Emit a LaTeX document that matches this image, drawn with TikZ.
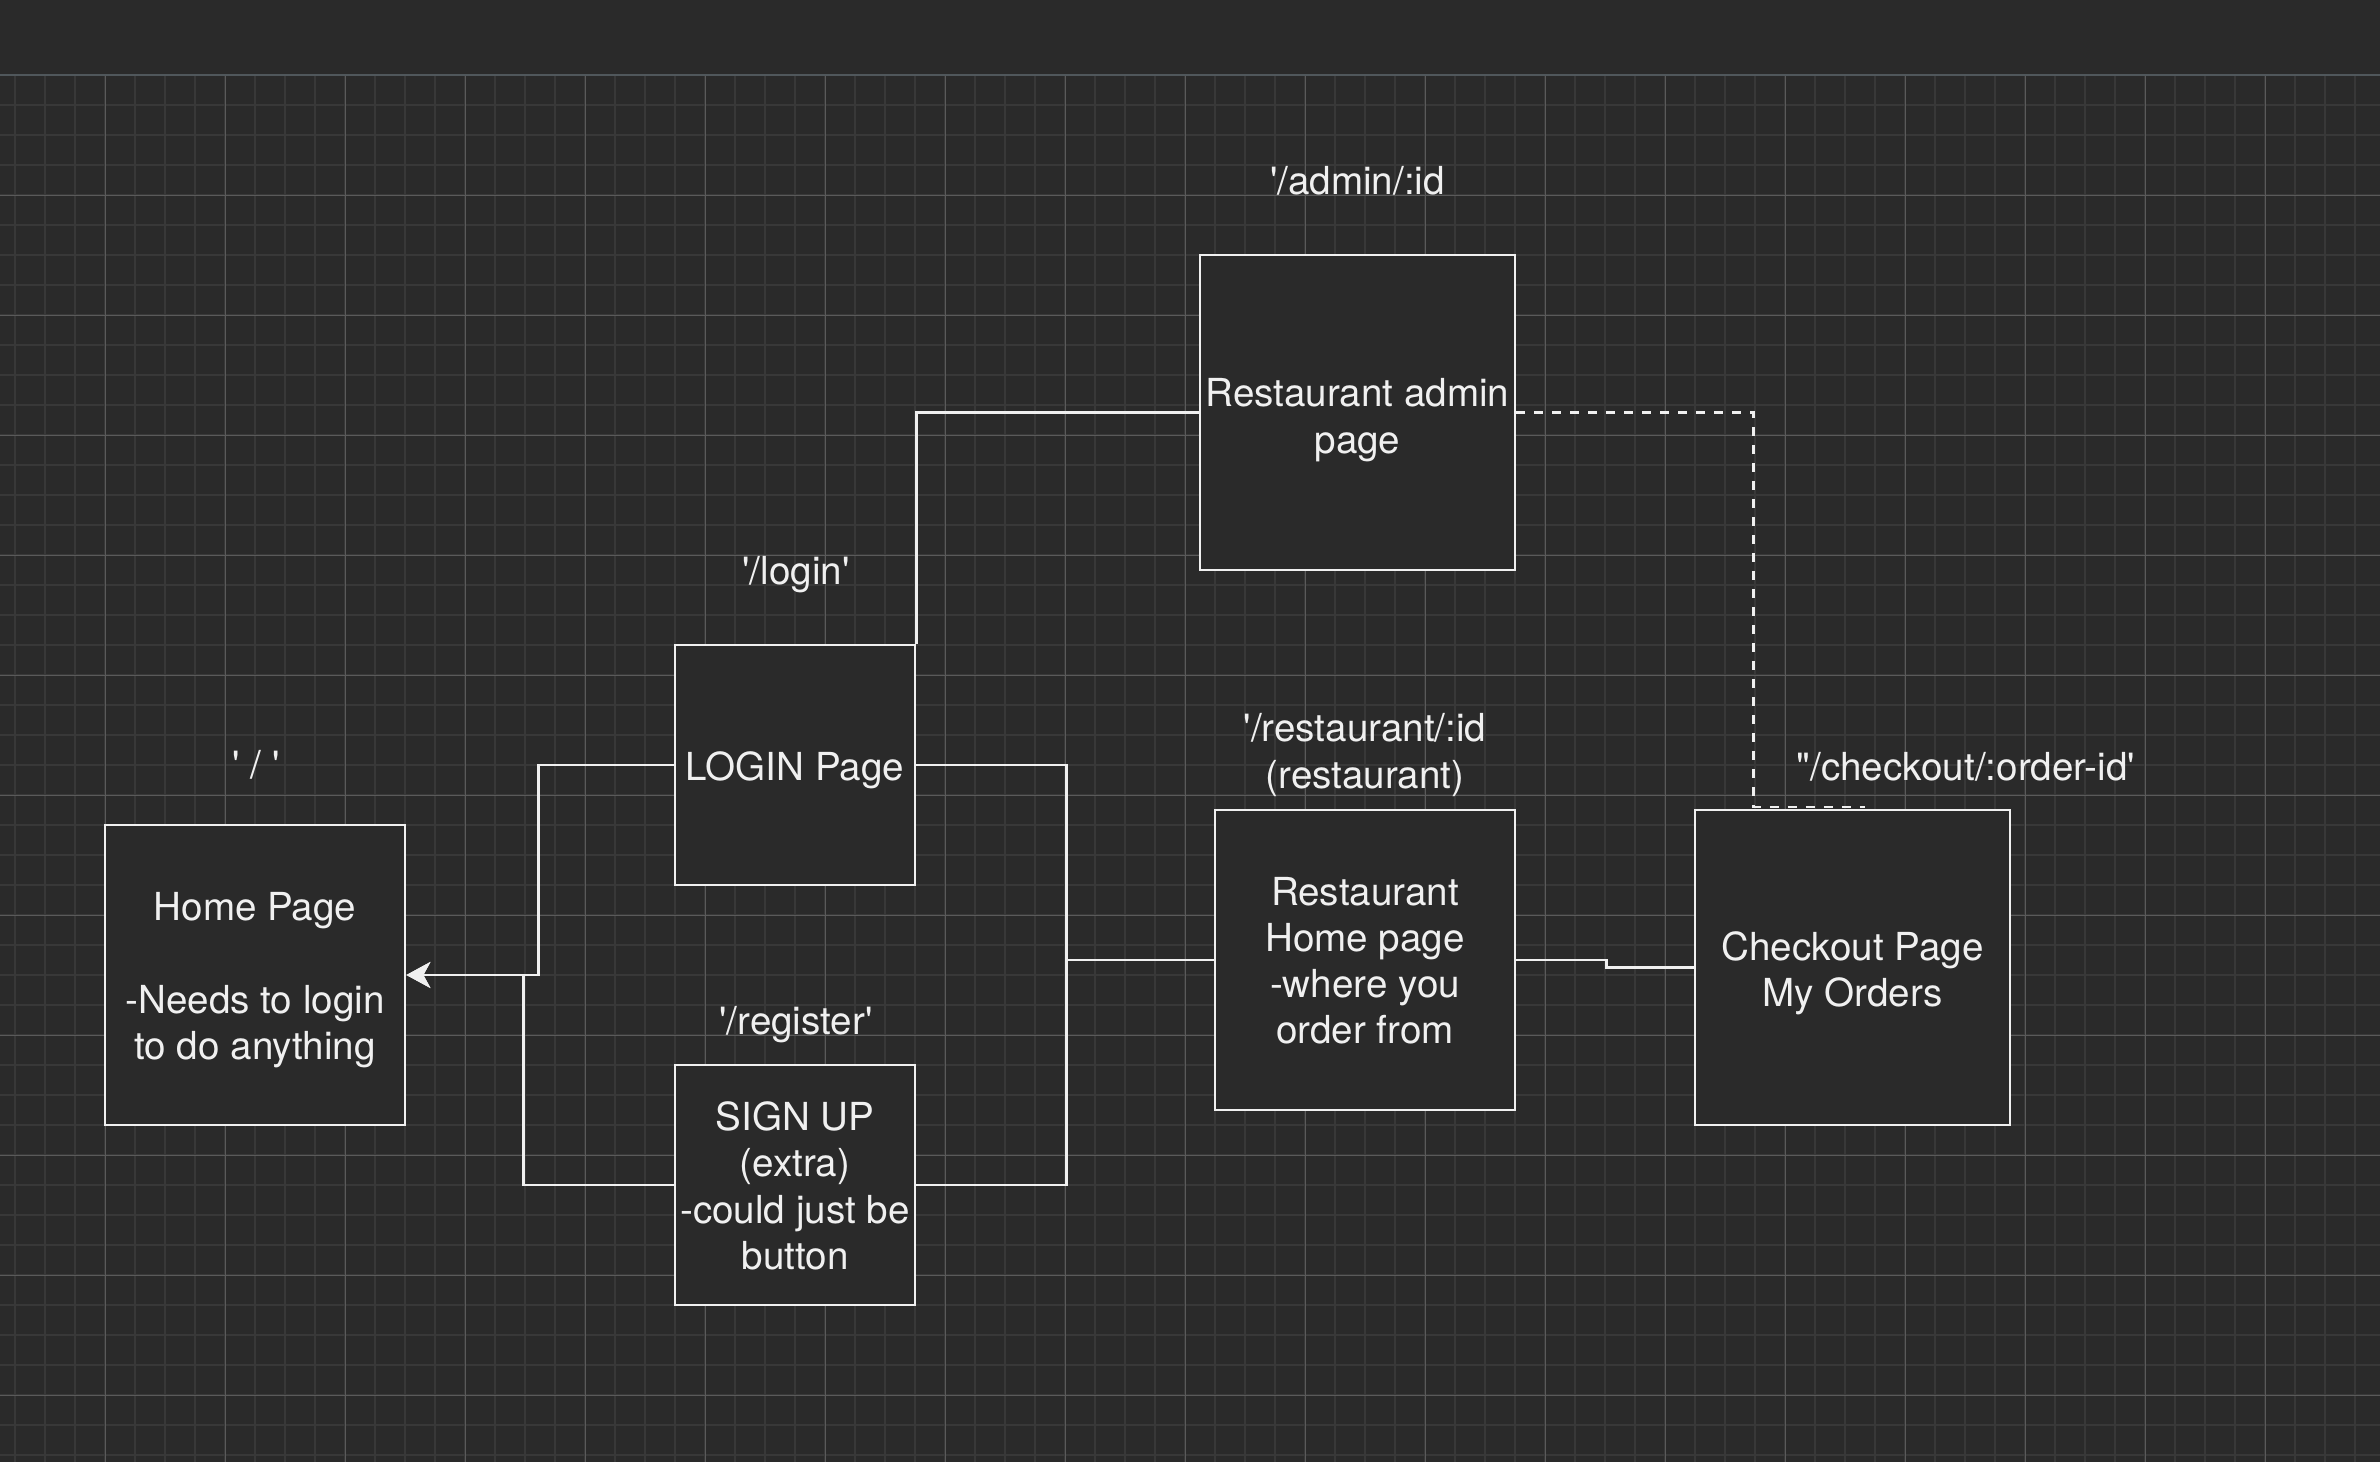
\documentclass[tikz,border=0pt]{standalone}
\usepackage{fontspec}
\setmainfont{TeX Gyre Heros}
\usetikzlibrary{arrows.meta}
\definecolor{canvas}{HTML}{2A2A2A}
\definecolor{gridminor}{HTML}{383838}
\definecolor{gridmajor}{HTML}{5A5A5A}
\definecolor{barline}{HTML}{50575B}
\definecolor{ink}{HTML}{F0F0F0}
\newcommand{\apos}{\textquotesingle}
\tikzset{
  route/.style={text=ink, align=center},
  page/.style 2 args={draw=ink, fill=canvas, line width=1.4pt, inner sep=0pt,
    label={[route, yshift=#2]center:{#1}}},
  link/.style={draw=ink, line width=1.2pt},
  homearrow/.style={-{Stealth[length=12pt, width=13pt, inset=3.5pt]}},
}
\begin{document}
\begin{tikzpicture}[x=1.5pt, y=-1.5pt, every node/.style={font=\fontsize{19.3}{23.1}\selectfont}]
	\useasboundingbox (0,0) rectangle (793.33,487.33);
	\fill[canvas] (0,0) rectangle (793.33,487.33);
	% grid
	\foreach \x in {5,15,...,785} \draw[gridminor, line width=0.65pt] (\x,25) -- (\x,487.33);
	\foreach \y in {35,45,...,485} \draw[gridminor, line width=0.65pt] (0,\y) -- (793.33,\y);
	\foreach \x in {35,75,...,755} \draw[gridmajor, line width=0.4pt] (\x,25) -- (\x,487.33);
	\foreach \y in {65,105,...,465} \draw[gridmajor, line width=0.4pt] (0,\y) -- (793.33,\y);
	\draw[barline, line width=0.9pt] (0,25) -- (793.33,25);
	% pages
	\node[page={Home Page\\[23.1pt]-Needs to login\\to do anything}{-2.65pt}, minimum size=150pt] (home) at (85,325) {};
	\node[page={LOGIN Page}{-2.65pt}, minimum size=120pt] (login) at (265,255) {};
	\node[page={SIGN UP\\(extra)\\-could just be\\button}{-0.4pt}, minimum size=120pt] (signup) at (265,395) {};
	\node[page={Restaurant admin\\page}{-3.8pt}, minimum size=157.5pt] (admin) at (452.5,137.5) {};
	\node[page={Restaurant\\Home page\\-where you\\order from}{-0.3pt}, minimum size=150pt] (resto) at (455,320) {};
	\node[page={Checkout Page\\My Orders}{-2.95pt}, minimum size=157.5pt] (checkout) at (617.5,322.5) {};
	% routes
	\node[route, anchor=base] (homeurl) at (85.3,259.5) {\apos{} / \apos};
	\node[route, anchor=base] (loginurl) at (265.3,194.8) {\apos/login\apos};
	\node[route, anchor=base] (signupurl) at (265.3,344.8) {\apos/register\apos};
	\node[route, anchor=base] (adminurl) at (452.5,64.8) {\apos/admin/:id};
	\node[route] (restourl) at (455,251.7) {\apos/restaurant/:id\\(restaurant)};
	\node[route, anchor=base] (checkouturl) at (655.3,260) {\textquotedbl/checkout/:order-id\apos};
	% links
	\draw[link, homearrow] (login.west) -- ++(-45,0) |- (home.east);
	\draw[link, homearrow] (signup.west) -- ++(-50,0) |- (home.east);
	\draw[link] (login.east) -- ++(50,0) |- (resto.west);
	\draw[link] (signup.east) -- ++(50,0) |- (resto.west);
	\draw[link] (admin.west) -| (login.north east);
	\draw[link] (resto.east) -- ++(30,0) |- (checkout.west);
	\draw[link, dash pattern=on 4.5pt off 4.5pt] (admin.east) -| ([shift={(20,-0.5)}]checkout.north west) -- ++(37,0);
\end{tikzpicture}
\end{document}
